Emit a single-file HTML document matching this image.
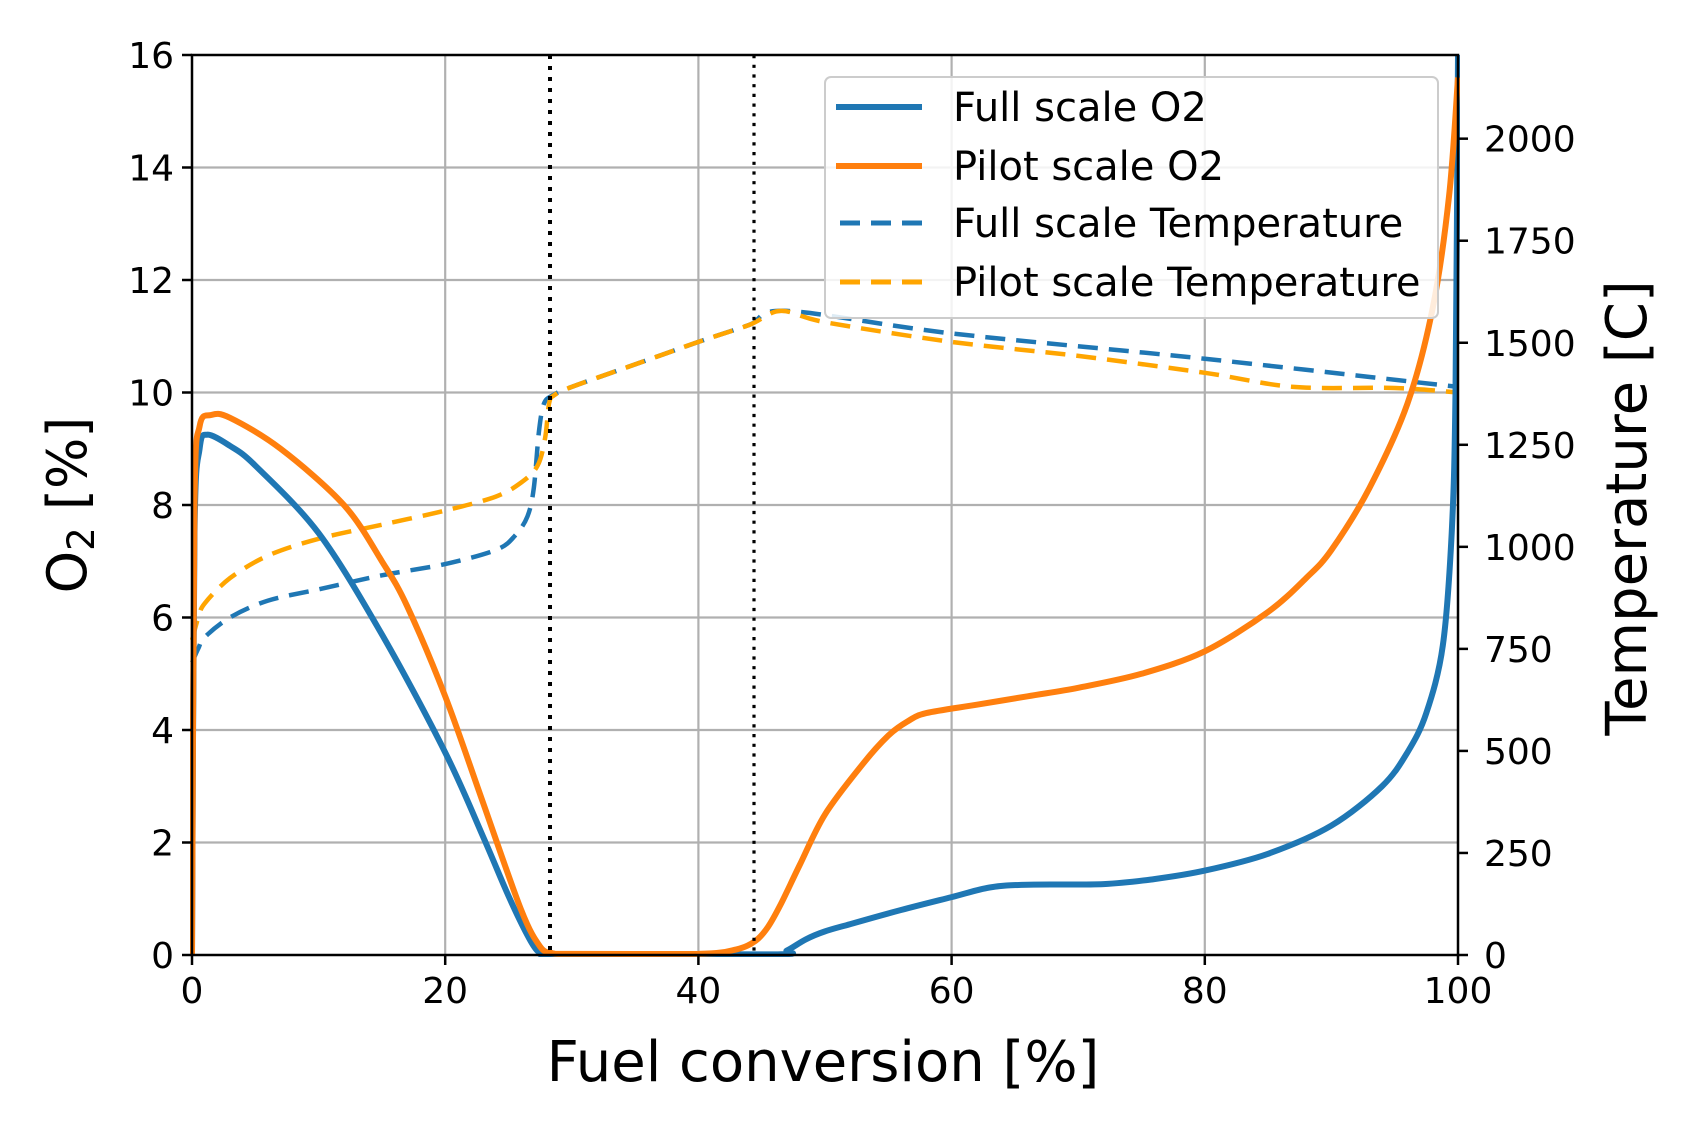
<!DOCTYPE html>
<html><head><meta charset="utf-8"><style>
html,body{margin:0;padding:0;background:#fff;}
svg{display:block;font-family:"DejaVu Sans","Liberation Sans",sans-serif;}
</style></head><body>
<svg id="s" width="1698" height="1124" viewBox="0 0 1698 1124" xmlns="http://www.w3.org/2000/svg">
<defs><clipPath id="cp"><rect x="190" y="50" width="1270" height="907"/></clipPath></defs>
<rect width="1698" height="1124" fill="#fff"/>
<g id="grid" stroke="#b0b0b0" stroke-width="2.2"></g>
<g id="series" fill="none" stroke-linejoin="round" stroke-linecap="butt" clip-path="url(#cp)"></g>
<line x1="550" y1="55" x2="550" y2="955" stroke="#000" stroke-width="4" stroke-dasharray="4,7"/>
<line x1="754" y1="55" x2="754" y2="955" stroke="#000" stroke-width="3.2" stroke-dasharray="3.2,6.5"/>
<g id="legend">
<rect x="825" y="77" width="613" height="241" rx="6" fill="#fff" fill-opacity="0.85" stroke="#cccccc" stroke-width="2"/>
<line x1="836" y1="107" x2="922" y2="107" stroke="#1f77b4" stroke-width="6"/>
<line x1="836" y1="166" x2="922" y2="166" stroke="#ff7f0e" stroke-width="6"/>
<line x1="840" y1="223" x2="922" y2="223" stroke="#1f77b4" stroke-width="5" stroke-dasharray="20,11"/>
<line x1="840" y1="282" x2="922" y2="282" stroke="#ffa500" stroke-width="5" stroke-dasharray="20,11"/>
<g font-size="40" fill="#000">
<text x="953" y="121">Full scale O2</text>
<text x="953" y="180">Pilot scale O2</text>
<text x="953" y="237">Full scale Temperature</text>
<text x="953" y="296">Pilot scale Temperature</text>
</g>
</g>
<g id="axes" stroke="#000" stroke-width="2.5" fill="none">
<rect x="192" y="55" width="1266" height="900"/>
</g>
<g id="ticks" stroke="#000" stroke-width="2.5"></g>
<g id="labels" font-size="36" fill="#000"></g>
<text x="823" y="1081" font-size="56" text-anchor="middle">Fuel conversion [%]</text>
<text transform="translate(86,505) rotate(-90)" font-size="54" text-anchor="middle">O<tspan font-size="37" dy="8">2</tspan><tspan dy="-8"> [%]</tspan></text>
<text transform="translate(1646,508) rotate(-90)" font-size="56" text-anchor="middle">Temperature [C]</text>
</svg>
<script>
var NS="http://www.w3.org/2000/svg";
var X0=192,X1=1458,Y0=955,YT=55;
function px(x){return X0+x*(X1-X0)/100;}
function py(v){return Y0-v*(Y0-YT)/16;}
function el(p,t,a){var e=document.createElementNS(NS,t);for(var k in a)e.setAttribute(k,a[k]);p.appendChild(e);return e;}
var g=document.getElementById('grid'),tk=document.getElementById('ticks'),lb=document.getElementById('labels');
for(var x=0;x<=100;x+=20){var X=px(x);
 if(x>0&&x<100)el(g,'line',{x1:X,y1:YT,x2:X,y2:Y0});
 el(tk,'line',{x1:X,y1:Y0,x2:X,y2:Y0+10});
 var t=el(lb,'text',{x:X,y:Y0+48,'text-anchor':'middle'});t.textContent=x;}
for(var v=0;v<=16;v+=2){var Y=py(v);
 if(v>0&&v<16)el(g,'line',{x1:X0,y1:Y,x2:X1,y2:Y});
 el(tk,'line',{x1:X0-10,y1:Y,x2:X0,y2:Y});
 var t=el(lb,'text',{x:X0-18,y:Y+13,'text-anchor':'end'});t.textContent=v;}
var TMAX=2205;
for(var T=0;T<=2000;T+=250){var Y=Y0-T*(Y0-YT)/TMAX;
 el(tk,'line',{x1:X1,y1:Y,x2:X1+10,y2:Y});
 var t=el(lb,'text',{x:X1+26,y:Y+13});t.textContent=T;}
var fullO2=[[0,0],[0.2,7.5],[0.6,9.0],[1.2,9.25],[3,9.05],[5,8.7],[10,7.5],[15,5.7],[20,3.6],[23,2.1],[25,1.05],[26.5,0.35],[27.3,0.07],[28,0.01],[29,0.01],[46,0.01],[47,0.08],[48.5,0.28],[50,0.42],[52,0.55],[56,0.8],[60,1.03],[63,1.2],[66,1.25],[72,1.26],[76,1.35],[80,1.5],[85,1.8],[90,2.3],[94,3.0],[96,3.6],[97.5,4.3],[98.8,5.5],[99.5,7.5],[99.8,10],[100,16]];
var pilotO2=[[0,0],[0.2,8.0],[0.6,9.4],[1.5,9.6],[3,9.55],[7,9.0],[12,8.0],[15,7.0],[17,6.2],[20,4.6],[23,2.7],[26,0.8],[27.5,0.15],[28.5,0.03],[30,0.02],[40,0.02],[43,0.1],[44.5,0.25],[45.5,0.5],[46.5,0.9],[48,1.6],[50,2.5],[53,3.4],[55,3.9],[56.5,4.15],[58,4.3],[62,4.45],[66,4.6],[70,4.75],[75,5.0],[80,5.4],[85,6.1],[88,6.7],[90,7.2],[93,8.3],[96,9.8],[98,11.5],[99.3,13.5],[100,15.6]];
var fullT=[[0,5.2],[0.5,5.45],[1,5.65],[3,6.0],[6,6.3],[10,6.5],[15,6.75],[20,6.95],[24,7.2],[25.5,7.45],[26.5,7.8],[27,8.3],[27.4,9.3],[27.8,9.8],[28.5,9.95],[30,10.1],[35,10.5],[40,10.9],[44,11.2],[47,11.45],[60,11.05],[80,10.6],[100,10.1]];
var pilotT=[[0,5.6],[0.5,6.0],[1,6.25],[3,6.7],[6,7.1],[10,7.4],[15,7.65],[20,7.9],[24,8.15],[26,8.4],[27.3,8.7],[27.9,9.2],[28.2,9.8],[28.6,9.95],[30,10.1],[35,10.5],[40,10.9],[44,11.2],[46.5,11.45],[50,11.25],[60,10.9],[70,10.65],[80,10.35],[87,10.1],[95,10.08],[100,10.0]];
var s=document.getElementById('series');
function cl(v){return Math.min(v,Y0-1);}
function line(d,c,w,dash){
 var P=d.map(function(q){return [px(q[0]),py(q[1])];});
 var str='M'+P[0][0].toFixed(1)+','+P[0][1].toFixed(1);
 for(var i=0;i<P.length-1;i++){
  var p0=P[i>0?i-1:0],p1=P[i],p2=P[i+1],p3=P[i+2<P.length?i+2:i+1];
  var t=0.16;
  var c1=[p1[0]+(p2[0]-p0[0])*t,cl(p1[1]+(p2[1]-p0[1])*t)];
  var c2=[p2[0]-(p3[0]-p1[0])*t,cl(p2[1]-(p3[1]-p1[1])*t)];
  str+=' C'+c1[0].toFixed(1)+','+c1[1].toFixed(1)+' '+c2[0].toFixed(1)+','+c2[1].toFixed(1)+' '+p2[0].toFixed(1)+','+p2[1].toFixed(1);
 }
 var a={d:str,stroke:c,'stroke-width':w};if(dash)a['stroke-dasharray']=dash;el(s,'path',a);}
line(fullT,'#1f77b4',4.5,'20,11');
line(pilotT,'#ffa500',4.5,'20,11');
line(fullO2,'#1f77b4',6);
line(pilotO2,'#ff7f0e',6);
</script>
</body></html>
